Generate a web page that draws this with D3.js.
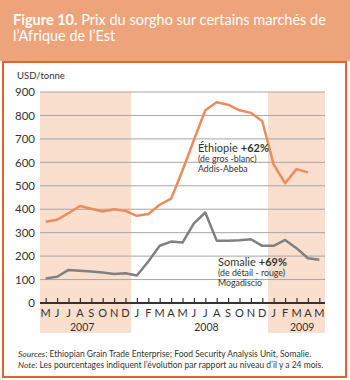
<!DOCTYPE html>
<html><head><meta charset="utf-8">
<script src="https://cdn.jsdelivr.net/npm/d3@7"></script>
<style>body{margin:0;background:#fff;}svg text{font-family:"Lato",sans-serif;}</style>
</head><body>
<svg id="c" width="350" height="380" font-family="Lato"></svg>
<script>
const months = ["M","J","J","A","S","O","N","D","J","F","M","A","M","J","J","A","S","O","N","D","J","F","M","A","M"];
const ethiopia = [347,355,383,414,402,390,400,393,372,380,419,445,565,695,822,856,846,822,811,775,590,511,571,557,null];
const somalia  = [105,112,141,138,134,130,124,127,117,177,244,262,258,340,386,266,266,268,272,244,244,269,234,191,184];
const yTicks = [0,100,200,300,400,500,600,700,800,900];
const years = ["2007","2008","2009"];
const yearStart = [0,8,20];
const yearEnd = [7,19,24];
const yearLabelAt = [3.2,14.1,22.5];
const shaded = [true,false,true];
const FF = "Lato";

const svg = d3.select("#c");
svg.append("rect").attr("x",0).attr("y",0).attr("width",350).attr("height",61).attr("fill","#EDA47B");
svg.append("rect").attr("x",3).attr("y",62).attr("width",343).attr("height",315).attr("fill","#fff").attr("stroke","#E2632B").attr("stroke-width",2);

// two-part text as separate elements; space gap added explicitly
function twoPart(xp, yp, size, first, firstAttr, rest, restAttr, fill, gap){
  const a = svg.append("text").attr("x",xp).attr("y",yp).attr("font-size",size).attr("fill",fill).attr("font-family",FF).text(first);
  Object.entries(firstAttr).forEach(([k,v])=>a.attr(k,v));
  const w = a.node().getComputedTextLength();
  const b = svg.append("text").attr("x",xp+w+gap*size).attr("y",yp).attr("font-size",size).attr("fill",fill).attr("font-family",FF).text(rest);
  Object.entries(restAttr).forEach(([k,v])=>b.attr(k,v));
}

twoPart(13,25,14.5,"Figure 10.",{"font-weight":"bold"},"Prix du sorgho sur certains marchés de",{},"#fff",0.26);
svg.append("text").attr("x",13).attr("y",41).attr("fill","#fff").attr("font-size",14.5).attr("font-family",FF).text("l’Afrique de l’Est");

const idx = d3.range(months.length);
const x = d3.scalePoint().domain(idx).range([40,325]).padding(0.5);
const step = x.step();
const y = d3.scaleLinear().domain([0,900]).range([303,92]);

years.forEach((yr,i)=>{
  if(shaded[i]){
    svg.append("rect").attr("x",x(yearStart[i])-step/2).attr("y",y(900))
      .attr("width",(yearEnd[i]-yearStart[i]+1)*step).attr("height",333-y(900)).attr("fill","#FADFCE");
  }
});

svg.append("g").selectAll("line").data(yTicks.filter(d=>d>0)).join("line")
  .attr("x1",40).attr("x2",325).attr("y1",d=>y(d)).attr("y2",d=>y(d))
  .attr("stroke","#A6A6A6").attr("stroke-width",1);

const yAxis = d3.axisLeft(y).tickValues(yTicks).tickSize(0).tickPadding(5);
const gy = svg.append("g").attr("transform","translate(40,0)").call(yAxis).attr("font-family",FF);
gy.select(".domain").remove();
gy.selectAll("text").attr("font-size",11.5).attr("fill","#333");

const xAxis = d3.axisTop(x).tickSize(5).tickFormat(()=> "");
const gx = svg.append("g").attr("transform","translate(0,303)").call(xAxis);
gx.select(".domain").remove();
gx.selectAll("line").attr("stroke","#333").attr("stroke-width",1.2);
svg.append("line").attr("x1",40).attr("x2",325).attr("y1",303).attr("y2",303).attr("stroke","#333").attr("stroke-width",2);
svg.append("g").selectAll("text").data(idx).join("text")
  .attr("x",d=>x(d)).attr("y",317).attr("text-anchor","middle").attr("font-size",11).attr("fill","#333").attr("font-family",FF)
  .text(d=>months[d]);
svg.append("g").selectAll("text").data(years).join("text")
  .attr("x",(d,i)=>x(0)+yearLabelAt[i]*step).attr("y",330.5).attr("text-anchor","middle").attr("font-size",10.5).attr("fill","#333").attr("font-family",FF)
  .text(d=>d);

svg.append("text").attr("x",17).attr("y",79).attr("font-size",9.5).attr("fill","#333").attr("font-family",FF).text("USD/tonne");

const line = d3.line().defined(d=>d[1]!=null).x(d=>x(d[0])).y(d=>y(d[1]));
svg.append("path").datum(idx.map(i=>[i,somalia[i]])).attr("d",line)
  .attr("fill","none").attr("stroke","#808080").attr("stroke-width",2.5).attr("stroke-linejoin","round");
svg.append("path").datum(idx.map(i=>[i,ethiopia[i]])).attr("d",line)
  .attr("fill","none").attr("stroke","#EE8B5A").attr("stroke-width",2.5).attr("stroke-linejoin","round");

twoPart(198,151.5,11,"Éthiopie",{},"+62%",{"font-weight":"bold"},"#333",0.28);
svg.append("text").attr("x",198).attr("y",162).attr("font-size",8.8).attr("fill","#333").attr("font-family",FF).text("(de gros -blanc)");
svg.append("text").attr("x",198).attr("y",171.5).attr("font-size",8.8).attr("fill","#333").attr("font-family",FF).text("Addis-Abeba");

twoPart(218,265.5,11,"Somalie",{},"+69%",{"font-weight":"bold"},"#333",0.28);
svg.append("text").attr("x",218).attr("y",276).attr("font-size",8.8).attr("fill","#333").attr("font-family",FF).text("(de détail - rouge)");
svg.append("text").attr("x",218).attr("y",285.5).attr("font-size",8.8).attr("fill","#333").attr("font-family",FF).text("Mogadiscio");

twoPart(18,357,8.5,"Sources",{"font-style":"italic"},": Ethiopian Grain Trade Enterprise; Food Security Analysis Unit, Somalie.",{},"#333",0);
twoPart(18,367.5,8.5,"Note",{"font-style":"italic"},": Les pourcentages indiquent l’évolution par rapport au niveau d’il y a 24 mois.",{},"#333",0);
</script>
</body></html>
